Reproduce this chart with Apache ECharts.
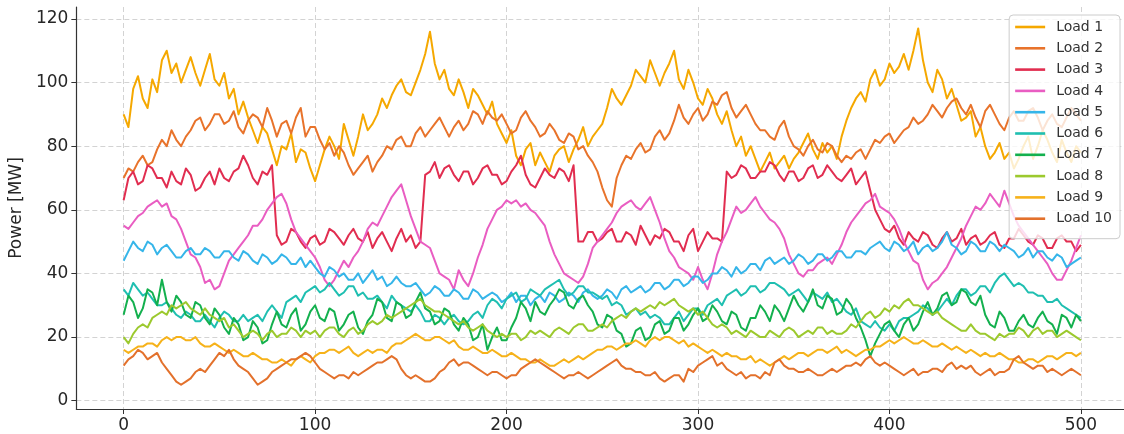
<!DOCTYPE html>
<html>
<head>
<meta charset="utf-8">
<script src="https://cdn.jsdelivr.net/npm/echarts@6/dist/echarts.min.js"></script>
<style>
  html, body { margin: 0; padding: 0; background: #ffffff; }
  #chart { width: 1124px; height: 434px; }
</style>
</head>
<body>
<div id="chart"></div>
<script>
// Time steps: every 2.5 units over the 0..500 horizon (201 samples)
const steps = [];
for (let k = 0; k <= 200; k++) steps.push(k * 2.5);

const xTicks = [0, 100, 200, 300, 400, 500];
const yTicks = [0, 20, 40, 60, 80, 100, 120];

const seriesNames = ['Load 1', 'Load 2', 'Load 3', 'Load 4', 'Load 5',
                     'Load 6', 'Load 7', 'Load 8', 'Load 9', 'Load 10'];
const seriesColors = ['#F5A800', '#E8732B', '#E12D50', '#E95DC2', '#35B5E9',
                      '#1FBFB1', '#13B04E', '#9CC92E', '#F6B21A', '#E3712C'];

// Power per load [MW], one row = 25 time units
const load1 = [
  90, 86, 98, 102, 95, 92, 101, 97, 107, 110,
  103, 106, 100, 104, 108, 103, 99, 104, 109, 101,
  99, 103, 95, 98, 90, 94, 89, 85, 81, 86,
  84, 79, 74, 80, 79, 84, 75, 79, 78, 73,
  69, 74, 79, 83, 80, 76, 87, 82, 77, 83,
  90, 85, 87, 90, 95, 92, 96, 99, 101, 97,
  96, 100, 104, 109, 116, 106, 101, 104, 98, 96,
  101, 97, 92, 98, 96, 93, 90, 94, 87, 84,
  81, 85, 77, 74, 79, 81, 74, 78, 75, 72,
  77, 79, 80, 75, 79, 82, 86, 80, 83, 85,
  87, 92, 98, 95, 93, 96, 99, 104, 102, 100,
  107, 103, 99, 103, 106, 110, 101, 98, 104, 100,
  95, 93, 98, 95, 90, 87, 91, 85, 80, 83,
  77, 80, 76, 72, 75, 78, 73, 75, 77, 73,
  76, 78, 81, 84, 79, 76, 81, 78, 80, 76,
  83, 88, 92, 95, 97, 94, 101, 104, 99, 101,
  106, 103, 105, 109, 104, 110, 117, 107, 100, 97,
  104, 101, 95, 98, 93, 88, 89, 91, 83, 86,
  80, 76, 78, 81, 76, 78, 73, 76, 80, 83,
  76, 80, 85, 82, 78, 75, 82, 78, 75, 80,
  78
];
const load2 = [
  70, 73, 72, 75, 77, 74, 75, 79, 82, 80,
  85, 82, 80, 83, 85, 88, 89, 85, 87, 90,
  90, 87, 88, 91, 86, 84, 88, 90, 89, 86,
  92, 88, 83, 87, 88, 84, 89, 92, 83, 86,
  86, 82, 79, 81, 77, 80, 78, 74, 71, 73,
  75, 77, 72, 75, 77, 80, 79, 82, 83, 80,
  80, 84, 86, 83, 85, 87, 89, 86, 83, 86,
  88, 85, 87, 91, 90, 87, 91, 89, 88, 90,
  87, 84, 85, 89, 91, 88, 86, 83, 84, 87,
  85, 82, 81, 84, 83, 79, 80, 77, 75, 72,
  67, 63, 61, 70, 74, 77, 76, 79, 81, 78,
  79, 83, 85, 82, 84, 88, 93, 89, 87, 90,
  92, 88, 90, 94, 93, 96, 97, 92, 89, 91,
  93, 90, 87, 85, 85, 83, 82, 86, 88, 83,
  80, 79, 77, 80, 82, 79, 78, 81, 80, 77,
  75, 77, 76, 78, 79, 76, 79, 82, 81, 83,
  84, 81, 83, 85, 86, 89, 87, 88, 90, 93,
  91, 89, 92, 94, 95, 92, 90, 93, 89, 86,
  91, 93, 90, 87, 85, 89, 91, 88, 88, 91,
  92, 89, 85, 88, 90, 87, 86, 89, 92, 90,
  88
];
const load3 = [
  63, 70, 72, 68, 69, 74, 73, 70, 70, 67,
  72, 69, 68, 73, 71, 66, 67, 70, 72, 68,
  73, 70, 69, 72, 73, 77, 74, 70, 68, 72,
  71, 74, 52, 49, 50, 54, 53, 50, 48, 51,
  52, 49, 50, 54, 53, 51, 49, 52, 54, 51,
  50, 53, 48, 51, 53, 50, 47, 51, 54, 50,
  52, 48, 50, 71, 72, 75, 70, 73, 74, 71,
  69, 72, 72, 68, 70, 73, 74, 71, 71, 68,
  69, 72, 74, 77, 71, 68, 67, 70, 73, 71,
  70, 73, 72, 69, 74, 50, 50, 53, 53, 50,
  51, 53, 54, 50, 50, 53, 52, 49, 55, 52,
  49, 52, 51, 54, 53, 50, 50, 47, 52, 54,
  47, 50, 53, 51, 51, 50, 72, 70, 71, 74,
  73, 70, 70, 72, 72, 75, 74, 71, 69, 72,
  72, 69, 70, 73, 74, 70, 71, 74, 72, 70,
  69, 71, 73, 68, 70, 72, 66, 60, 57, 54,
  53, 55, 51, 49, 53, 51, 50, 53, 52, 49,
  48, 51, 53, 50, 51, 54, 49, 51, 52, 49,
  50, 52, 53, 49, 48, 51, 51, 54, 52, 50,
  49, 52, 51, 48, 48, 51, 52, 50, 50, 47,
  49
];
const load4 = [
  55, 54, 56, 58, 59, 61, 62, 63, 61, 62,
  58, 57, 54, 50, 46, 45, 42, 37, 38, 35,
  36, 40, 44, 46, 48, 50, 52, 55, 55, 57,
  60, 62, 64, 65, 62, 57, 53, 51, 49, 47,
  45, 42, 38, 36, 38, 41, 44, 42, 45, 47,
  50, 54, 56, 55, 58, 61, 64, 66, 68, 63,
  58, 54, 50, 49, 48, 44, 40, 39, 38, 35,
  41, 38, 36, 40, 45, 49, 54, 57, 60, 61,
  63, 62, 63, 61, 62, 60, 59, 57, 55, 50,
  46, 43, 40, 39, 38, 37, 39, 43, 48, 50,
  52, 54, 56, 59, 61, 62, 63, 61, 60, 62,
  64, 60, 56, 51, 47, 45, 42, 41, 40, 38,
  42, 38, 35, 40, 46, 50, 53, 57, 61, 59,
  60, 62, 64, 61, 59, 57, 56, 54, 51, 46,
  43, 40, 39, 41, 41, 43, 44, 45, 43, 46,
  49, 53, 56, 58, 60, 62, 63, 65, 61, 60,
  59, 57, 54, 50, 47, 44, 43, 38, 35, 37,
  38, 40, 42, 45, 48, 51, 55, 58, 61, 60,
  62, 65, 63, 61, 66, 62, 58, 55, 53, 51,
  49, 47, 45, 43, 40, 38, 38, 41, 44, 48,
  52
];
const load5 = [
  44, 47, 50, 48, 47, 50, 49, 46, 48, 49,
  47, 45, 45, 47, 48, 46, 46, 48, 47, 45,
  45, 47, 47, 45, 44, 47, 46, 44, 43, 46,
  45, 43, 44, 46, 45, 43, 43, 45, 42, 44,
  42, 40, 39, 42, 41, 39, 40, 38, 38, 40,
  37, 39, 41, 38, 39, 36, 37, 39, 37, 36,
  36, 37, 35, 33, 34, 36, 35, 33, 33, 35,
  34, 32, 32, 35, 34, 32, 33, 34, 33, 31,
  32, 34, 31, 33, 33, 30, 32, 33, 31, 34,
  33, 31, 32, 34, 33, 31, 34, 35, 33, 32,
  33, 35, 34, 32, 35, 36, 34, 35, 36, 34,
  35, 37, 37, 35, 36, 38, 38, 36, 37, 39,
  39, 37, 38, 40, 40, 42, 41, 39, 42, 40,
  41, 43, 43, 41, 44, 45, 43, 44, 45, 43,
  44, 46, 45, 43, 44, 46, 46, 44, 45, 47,
  47, 45, 45, 47, 47, 46, 48, 49, 50, 48,
  47, 50, 49, 47, 48, 50, 46, 48, 49, 47,
  48, 50, 53, 49, 48, 46, 47, 50, 49, 47,
  47, 50, 49, 47, 49, 48, 47, 45, 46, 48,
  45, 47, 47, 45, 44, 46, 45, 42, 43, 44,
  45
];
const load6 = [
  35, 33, 37, 35, 33, 34, 32, 30, 30, 31,
  29, 27, 26, 28, 27, 25, 25, 27, 25, 23,
  26, 28, 27, 25, 25, 27, 25, 26, 27, 25,
  28, 30, 28, 26, 31, 32, 33, 31, 34, 35,
  36, 34, 35, 37, 35, 33, 34, 36, 36, 33,
  34, 32, 32, 33, 31, 29, 33, 31, 30, 29,
  28, 30, 28, 25, 25, 27, 26, 24, 26, 27,
  25, 24, 25, 27, 28, 26, 30, 32, 31, 29,
  32, 33, 34, 31, 32, 35, 34, 33, 35, 36,
  37, 38, 35, 33, 34, 36, 36, 34, 34, 33,
  32, 33, 30, 31, 30, 27, 28, 29, 27, 28,
  26, 27, 26, 24, 24, 26, 28, 25, 27, 29,
  29, 27, 30, 31, 32, 30, 33, 34, 35, 33,
  34, 36, 36, 34, 35, 37, 37, 36, 35, 33,
  34, 35, 33, 31, 34, 33, 32, 34, 31, 32,
  30, 28, 27, 29, 25, 24, 23, 25, 23, 22,
  24, 22, 25, 26, 26, 27, 28, 30, 29, 27,
  28, 30, 32, 30, 33, 35, 35, 33, 34, 36,
  36, 34, 37, 39, 40, 38, 36, 37, 36, 34,
  34, 33, 33, 31, 31, 32, 30, 29, 28, 27,
  26
];
const load7 = [
  27, 33, 31, 26, 29, 35, 34, 30, 38, 31,
  28, 33, 31, 27, 26, 31, 30, 26, 24, 29,
  27, 23, 21, 26, 24, 19, 20, 25, 23, 18,
  19, 24, 28, 24, 23, 27, 29, 22, 24, 28,
  30, 26, 25, 29, 28, 22, 24, 27, 28, 23,
  21, 25, 27, 32, 31, 26, 25, 31, 30, 26,
  27, 31, 34, 29, 28, 24, 25, 29, 28, 24,
  22, 26, 24, 19, 20, 24, 16, 20, 23, 19,
  19, 23, 26, 31, 29, 25, 31, 28, 27, 30,
  32, 35, 34, 30, 29, 32, 33, 30, 28, 24,
  23, 27, 26, 22, 21, 17, 18, 22, 23, 19,
  20, 24, 25, 21, 22, 26, 26, 22, 24, 27,
  29, 25, 26, 30, 28, 25, 24, 28, 27, 23,
  22, 26, 26, 30, 28, 25, 30, 28, 25, 29,
  33, 30, 28, 31, 35, 30, 29, 33, 32, 27,
  28, 32, 30, 26, 23, 19, 14, 18, 21, 24,
  25, 22, 20, 24, 26, 22, 24, 28, 31, 27,
  29, 33, 34, 30, 31, 35, 34, 31, 30, 33,
  27, 24, 23, 28, 26, 22, 22, 25, 27, 24,
  23, 26, 28, 25, 24, 21, 27, 26, 23, 27,
  25
];
const load8 = [
  20, 18, 21, 23, 24, 23, 26, 27, 28, 27,
  30, 29, 30, 31, 29, 28, 27, 29, 27, 26,
  25, 26, 23, 24, 22, 20, 21, 22, 21, 19,
  21, 22, 20, 21, 21, 23, 22, 20, 22, 21,
  22, 20, 22, 23, 23, 21, 20, 22, 23, 21,
  22, 24, 25, 24, 25, 27, 26, 27, 28, 29,
  30, 31, 32, 30, 29, 28, 28, 27, 26, 25,
  24, 25, 23, 22, 23, 24, 22, 21, 20, 21,
  20, 21, 21, 19, 20, 22, 21, 22, 21, 20,
  22, 23, 22, 21, 23, 24, 24, 22, 22, 23,
  24, 23, 25, 26, 27, 26, 28, 29, 28, 29,
  30, 29, 31, 30, 31, 32, 30, 29, 28, 29,
  27, 28, 26, 24, 23, 24, 23, 21, 22, 21,
  20, 22, 21, 20, 20, 22, 21, 20, 22, 23,
  22, 20, 21, 22, 21, 23, 23, 21, 22, 21,
  21, 22, 24, 23, 25, 27, 28, 26, 27, 29,
  28, 30, 29, 31, 32, 30, 30, 29, 28, 27,
  28, 26, 25, 24, 23, 22, 22, 24, 22, 21,
  21, 20, 19, 21, 20, 21, 21, 23, 22, 20,
  22, 23, 21, 22, 22, 20, 21, 22, 21, 20,
  19
];
const load9 = [
  16, 15, 16, 17, 17, 18, 18, 17, 19, 20,
  19, 20, 20, 19, 19, 20, 18, 17, 17, 18,
  17, 16, 15, 16, 15, 14, 14, 15, 14, 13,
  13, 12, 12, 13, 12, 11, 13, 14, 13, 12,
  14, 15, 15, 16, 16, 15, 16, 17, 15, 14,
  15, 16, 15, 16, 16, 15, 17, 18, 18, 19,
  20, 21, 20, 19, 19, 20, 20, 19, 18, 19,
  17, 16, 16, 17, 16, 15, 15, 16, 15, 14,
  14, 15, 14, 13, 13, 12, 12, 13, 12, 11,
  11, 12, 13, 12, 13, 14, 13, 14, 15, 16,
  16, 17, 17, 16, 17, 18, 18, 19, 18, 17,
  19, 20, 19, 20, 20, 19, 18, 19, 17, 18,
  17, 16, 15, 16, 15, 14, 15, 14, 14, 13,
  13, 14, 12, 13, 12, 11, 12, 13, 14, 13,
  14, 15, 15, 14, 15, 16, 16, 15, 16, 17,
  15, 16, 15, 14, 15, 16, 16, 17, 17, 18,
  19, 18, 19, 20, 19, 18, 18, 19, 18, 17,
  17, 18, 17, 16, 17, 16, 15, 16, 15, 14,
  15, 14, 14, 15, 14, 13, 13, 12, 12, 13,
  13, 12, 13, 14, 14, 13, 14, 15, 15, 14,
  15
];
const load10 = [
  11, 13, 14, 16, 15, 13, 14, 15, 12, 10,
  8, 6, 5, 6, 7, 9, 10, 9, 11, 13,
  15, 14, 16, 13, 11, 10, 9, 7, 5, 6,
  7, 9, 10, 11, 12, 13, 13, 14, 15, 14,
  12, 10, 9, 8, 7, 8, 8, 7, 9, 8,
  9, 10, 11, 12, 12, 13, 14, 13, 10, 8,
  7, 8, 7, 6, 6, 7, 9, 10, 12, 13,
  11, 12, 12, 11, 10, 9, 8, 9, 9, 8,
  7, 8, 8, 10, 11, 12, 13, 12, 11, 10,
  9, 8, 7, 8, 8, 9, 8, 7, 8, 9,
  10, 11, 12, 13, 11, 10, 10, 9, 9, 8,
  8, 9, 7, 6, 7, 8, 8, 6, 10, 9,
  11, 12, 13, 14, 11, 12, 10, 9, 8, 9,
  7, 8, 8, 7, 9, 8, 12, 13, 11, 10,
  10, 9, 9, 10, 9, 8, 8, 9, 10, 9,
  10, 11, 11, 12, 11, 13, 14, 12, 11, 12,
  11, 10, 9, 8, 9, 10, 8, 9, 9, 10,
  10, 9, 11, 12, 10, 11, 10, 11, 9, 8,
  9, 10, 8, 9, 9, 10, 13, 14, 12, 11,
  10, 11, 11, 9, 10, 9, 8, 9, 10, 9,
  8
];

const loads = [load1, load2, load3, load4, load5, load6, load7, load8, load9, load10];

const chart = echarts.init(document.getElementById('chart'), null, { renderer: 'canvas' });

const axisFont = 'DejaVu Sans';
const gridLine = { show: true, lineStyle: { color: '#d3d3d3', type: [5, 3], width: 1 } };

chart.setOption({
  animation: false,
  backgroundColor: '#ffffff',
  grid: { left: 76, right: 0, top: 7, bottom: 22, containLabel: false },
  xAxis: {
    type: 'value',
    min: -24.7,
    max: 522.5,
    axisLine: { show: true, onZero: false, lineStyle: { color: '#333333', width: 1.2 } },
    axisTick: { show: true, length: 5, customValues: xTicks, lineStyle: { color: '#333333', width: 1 } },
    axisLabel: { customValues: xTicks, fontSize: 17, color: '#262626', margin: 8, fontFamily: axisFont },
    splitLine: gridLine
  },
  yAxis: {
    type: 'value',
    min: -2.62,
    max: 123.75,
    name: 'Power [MW]',
    nameLocation: 'middle',
    nameGap: 50,
    nameTextStyle: { fontSize: 17, color: '#262626', fontFamily: axisFont },
    axisLine: { show: true, onZero: false, lineStyle: { color: '#333333', width: 1.2 } },
    axisTick: { show: true, length: 5, customValues: yTicks, lineStyle: { color: '#333333', width: 1 } },
    axisLabel: { customValues: yTicks, fontSize: 17, color: '#262626', margin: 8, fontFamily: axisFont },
    splitLine: gridLine
  },
  legend: {
    orient: 'vertical',
    right: 4,
    top: 15,
    data: seriesNames,
    icon: 'path://M0,0H30V2.6H0Z',
    itemWidth: 30,
    itemHeight: 14,
    itemGap: 7.3,
    padding: [5, 8, 13, 6],
    backgroundColor: 'rgba(255,255,255,0.8)',
    borderColor: '#cccccc',
    borderWidth: 1,
    borderRadius: 4,
    selectedMode: false,
    textStyle: { fontSize: 14, color: '#333333', fontFamily: axisFont, padding: [0, 0, 0, 6] }
  },
  series: loads.map((vals, i) => ({
    name: seriesNames[i],
    type: 'line',
    symbol: 'none',
    showSymbol: false,
    silent: true,
    data: vals.map((v, j) => [steps[j], v]),
    lineStyle: { width: 2, color: seriesColors[i], join: 'round' },
    itemStyle: { color: seriesColors[i] }
  }))
});
</script>
</body>
</html>
